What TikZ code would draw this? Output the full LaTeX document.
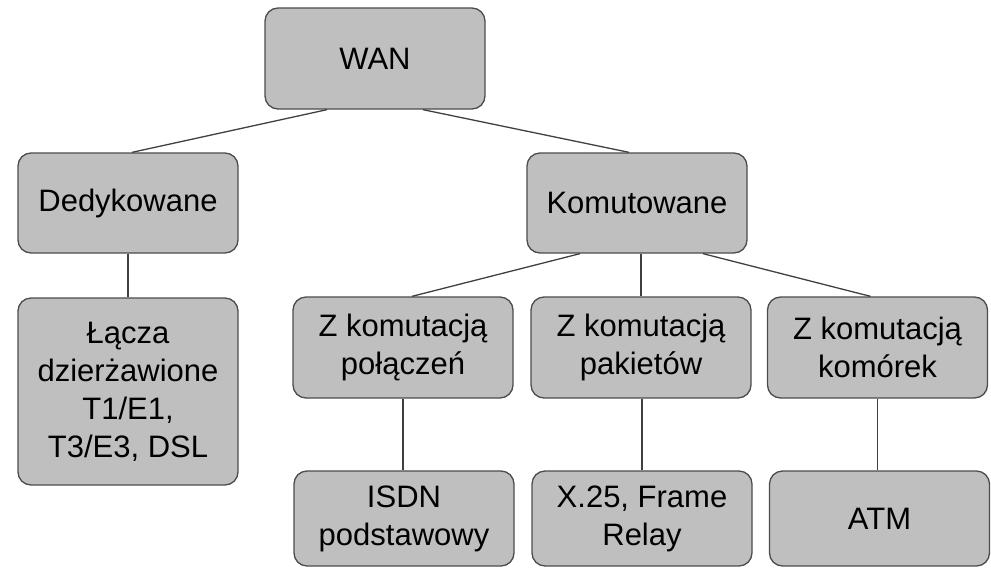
\documentclass[tikz,border=0pt]{standalone}
\usepackage{fontspec}
\setmainfont{Liberation Sans}
\begin{document}
\begin{tikzpicture}[x=1pt,y=-1pt,
  box/.style={draw=black!70, line width=1.3pt, fill=black!25, rounded corners=13pt,
    minimum width=220pt, inner sep=0pt, align=center,
    font=\fontsize{31}{38}\selectfont},
  link/.style={draw=black!75, line width=1.3pt}]
\useasboundingbox (0,0) rectangle (991,568);

% top level
\node[box, minimum height=101pt] (wan) at (375,58.5) {WAN};

% second level
\node[box, minimum height=100pt] (ded) at (128,203) {Dedykowane};
\node[box, minimum height=100pt] (kom) at (637,203) {Komutowane};

% third level
\node[box, minimum height=187pt] (lacza) at (128,391.5) {Łącza\\dzierżawione\\T1/E1,\\T3/E3, DSL};
\node[box, minimum height=101pt] (zpol) at (403,347.5) {Z komutacją\\połączeń};
\node[box, minimum height=101pt] (zpak) at (641,347.5) {Z komutacją\\pakietów};
\node[box, minimum height=101pt] (zkom) at (877.5,347.5) {Z komutacją\\komórek};

% fourth level
\node[box, minimum height=95pt] (isdn) at (404,518.5) {ISDN\\podstawowy};
\node[box, minimum height=95pt] (x25) at (642,518.5) {X.25, Frame\\Relay};
\node[box, minimum height=95pt] (atm) at (879.5,518.5) {ATM};

% connectors
\draw[link] ([xshift=-48pt]wan.south) -- ([xshift=4pt]ded.north);
\draw[link] ([xshift=48pt]wan.south) -- ([xshift=-8pt]kom.north);
\draw[link] (ded.south) -- (lacza.north);
\draw[link] ([xshift=-57pt]kom.south) -- ([xshift=9pt]zpol.north);
\draw[link] (zpak.north |- kom.south) -- (zpak.north);
\draw[link] ([xshift=66pt]kom.south) -- ([xshift=-7pt]zkom.north);
\draw[link] (zpol.south) -- (zpol.south |- isdn.north);
\draw[link] (x25.north |- zpak.south) -- (x25.north);
\draw[link] (zkom.south) -- (zkom.south |- atm.north);
\end{tikzpicture}
\end{document}
